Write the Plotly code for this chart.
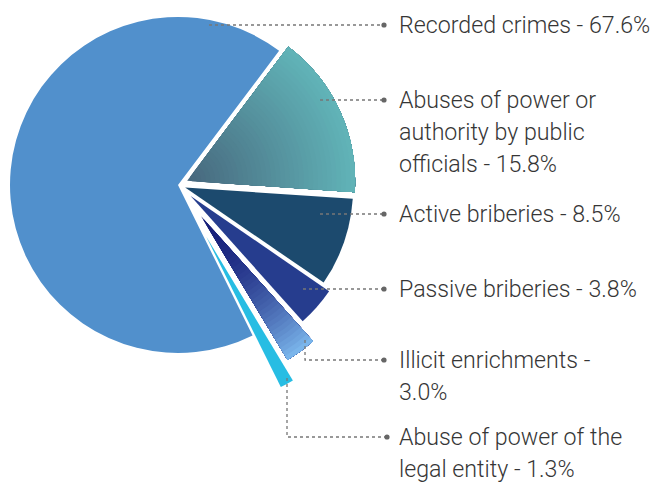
import plotly.graph_objects as go
import math

# ---------------- data ----------------
categories = ["Abuses of power or authority by public officials",
              "Active briberies",
              "Passive briberies",
              "Illicit enrichments",
              "Abuse of power of the legal entity",
              "Recorded crimes"]
values = [15.8, 8.5, 3.8, 3.0, 1.3, 67.6]
pulls = [0.06, 0.045, 0.10, 0.23, 0.35, 0.0]
label_text = ["Abuses of power or<br>authority by public<br>officials - {v:.1f}%",
              "Active briberies - {v:.1f}%",
              "Passive briberies - {v:.1f}%",
              "Illicit enrichments -<br>{v:.1f}%",
              "Abuse of power of the<br>legal entity - {v:.1f}%",
              "Recorded crimes - {v:.1f}%"]

# ---------------- style / layout constants ----------------
W, H = 652, 482
CX, CY, R = 178, 185, 168          # pie centre / radius in px
ROTATION = 37
colors = [None, "#1c4a6e", "#263d8e", None, "#27bde3", "#5190cc"]
# (inner colour, outer colour, gamma)
gradients = {0: ("#47677d", "#61b4b8", 1.0), 3: ("#18207a", "#7db9ee", 2.0)}
N_GRAD = 36
# leader lines (px): start ... end
leaders = [
    [(320, 100), (384, 100)],
    [(320, 214), (384, 214)],
    [(303, 289), (384, 289)],
    [(305, 340), (305, 360), (384, 360)],
    [(287, 378), (287, 437), (387, 437)],
    [(209, 25), (384, 25)],
]
TEXT_X = 397
FONT = dict(family="Roboto, Noto Sans, sans-serif", size=23.2, color="#363636", weight=300)
LINE_H = 32

total = sum(values)


def hex2rgb(h):
    h = h.lstrip("#")
    return tuple(int(h[i:i + 2], 16) for i in (0, 2, 4))


def mix(c0, c1, t):
    a, b = hex2rgb(c0), hex2rgb(c1)
    return "rgb(%d,%d,%d)" % tuple(round(a[i] + (b[i] - a[i]) * t) for i in range(3))


def domain_for(i):
    before = sum(values[:i])
    mid = math.radians(ROTATION + 360 * (before + values[i] / 2) / total)
    off = pulls[i] * R
    cx = CX + off * math.sin(mid)
    cy = CY - off * math.cos(mid)
    return dict(x=[(cx - R) / W, (cx + R) / W], y=[1 - (cy + R) / H, 1 - (cy - R) / H])


def slice_trace(i, color, hole=0.0):
    cols = ["rgba(0,0,0,0)"] * len(values)
    cols[i] = color
    return go.Pie(labels=categories, values=values, sort=False, direction="clockwise",
                  rotation=ROTATION, domain=domain_for(i), hole=hole,
                  marker=dict(colors=cols, line=dict(width=0)),
                  textinfo="none", hoverinfo="skip", showlegend=False)


fig = go.Figure()
for i in [5, 0, 1, 2, 3, 4]:
    if i in gradients:
        c0, c1, g = gradients[i]
        for k in range(N_GRAD):
            t = ((k + 0.5) / N_GRAD) ** g
            fig.add_trace(slice_trace(i, mix(c0, c1, t), hole=k / N_GRAD))
    else:
        fig.add_trace(slice_trace(i, colors[i]))

shapes = []
annotations = []
for i, pts in enumerate(leaders):
    path = "M " + " L ".join("%f,%f" % (x / W, 1 - y / H) for x, y in pts)
    shapes.append(dict(type="path", xref="paper", yref="paper", path=path,
                       line=dict(color="#777777", width=1.3, dash="dot")))
    ex, ey = pts[-1]
    rr = 2.6
    shapes.append(dict(type="circle", xref="paper", yref="paper",
                       x0=(ex - rr) / W, x1=(ex + rr) / W, y0=1 - (ey + rr) / H, y1=1 - (ey - rr) / H,
                       fillcolor="#666666", line=dict(width=0)))
    lines = label_text[i].format(v=values[i]).split("<br>")
    for j, line in enumerate(lines):
        annotations.append(dict(x=TEXT_X / W, y=1 - (ey + j * LINE_H) / H, xref="paper", yref="paper",
                                xanchor="left", yanchor="middle", align="left",
                                text=line, showarrow=False, font=FONT))

fig.update_layout(width=W, height=H, margin=dict(l=0, r=0, t=0, b=0),
                  paper_bgcolor="white", plot_bgcolor="white",
                  shapes=shapes, annotations=annotations)
fig.write_html("out.html")
